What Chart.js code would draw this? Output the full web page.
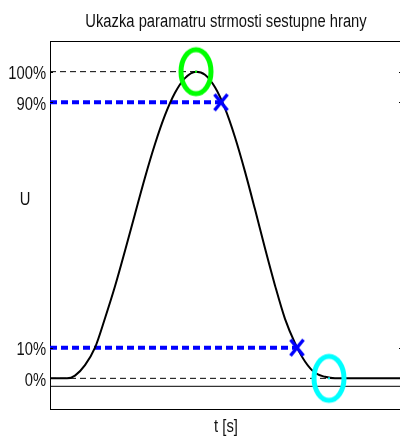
<!DOCTYPE html>
<html>
<head>
<meta charset="utf-8">
<script src="https://cdn.jsdelivr.net/npm/chart.js@4.4.1/dist/chart.umd.min.js"></script>
<style>
  html, body { margin: 0; padding: 0; background: #fff; overflow: hidden; }
  #obal { position: relative; width: 402px; height: 437px; }
</style>
</head>
<body>
<div id="obal"><canvas id="graf"></canvas></div>
<script>
// prubeh signalu (t bez jednotek, U v %)
const casT = [0, 10, 17, 25, 35, 45, 55, 65, 75, 85, 95, 105, 115, 125, 135, 146,
  155, 165, 175, 185, 195, 205, 215, 225, 235, 245, 255, 265, 275, 285, 352];
const napetiU = [0, 0, 0, 0.9, 4.3, 10.0, 19.6, 30.0, 41.6, 53.6, 65.5, 76.4, 85.8, 93.1, 97.9, 100,
  99.0, 94.9, 88.0, 78.6, 67.4, 55.1, 42.4, 30.3, 19.4, 11.5, 5.5, 1.8, 0.5, 0, 0];

// urovne na ose U
const urovneTicks = [0, 10, 90, 100];
const urovneLabels = ['0%', '10%', '90%', '100%'];

// vyznacene body: maximum (zelena) a navrat na nulu (azurova)
const kruhT = [146, 279];
const kruhU = [100, 0];
// pruseciky 90 % a 10 % na sestupne hrane
const krizT = [171, 247];
const krizU = [90, 10];

const zakladU = -2.6;   // plna vodorovna cara pod nulou
const rozsahT = [0, 352];
const rozsahU = [-10, 110];

const nadpis = 'Ukazka paramatru strmosti sestupne hrany';
const popisX = 't [s]';
const popisY = 'U';

const pismo = "18px 'Liberation Sans', Arial, sans-serif";
const barvaTextu = '#111';
const zuzeni = 0.82;   // pismo v predloze je horizontalne stlacene

function kruhovyBod(barva) {
  const c = document.createElement('canvas');
  c.width = 40;
  c.height = 54;
  const g = c.getContext('2d');
  g.strokeStyle = barva;
  g.lineWidth = 5;
  g.beginPath();
  g.ellipse(20, 27, 15, 22, 0, 0, Math.PI * 2);
  g.stroke();
  g.fillStyle = barva;
  g.fillRect(19, 26, 2, 2);
  return c;
}

function krizek(barva) {
  const c = document.createElement('canvas');
  c.width = 18;
  c.height = 20;
  const g = c.getContext('2d');
  g.strokeStyle = barva;
  g.lineWidth = 3.5;
  g.beginPath();
  g.moveTo(2.5, 2);
  g.lineTo(15.5, 18);
  g.moveTo(15.5, 2);
  g.lineTo(2.5, 18);
  g.stroke();
  return c;
}

function usecka(t0, t1, u) {
  return [{ x: t0, y: u }, { x: t1, y: u }];
}

function uzkyText(ctx, text, x, y, zarovnani) {
  ctx.save();
  ctx.translate(x, y);
  ctx.scale(zuzeni, 1);
  ctx.textAlign = zarovnani;
  ctx.textBaseline = 'alphabetic';
  ctx.fillText(text, 0, 0);
  ctx.restore();
}

const ramecek = {
  id: 'ramecek',
  afterDraw(chart) {
    const { ctx, chartArea: a, scales } = chart;
    ctx.save();
    ctx.strokeStyle = '#000';
    ctx.lineWidth = 1;
    ctx.beginPath();
    ctx.moveTo(a.left, a.top + 0.5);
    ctx.lineTo(a.right, a.top + 0.5);
    ctx.moveTo(a.right - 0.5, a.top);
    ctx.lineTo(a.right - 0.5, a.bottom);
    // kratke znacky dovnitr
    urovneTicks.forEach(v => {
      const y = Math.round(scales.y.getPixelForValue(v)) + 0.5;
      ctx.moveTo(a.left, y);
      ctx.lineTo(a.left + 3, y);
      ctx.moveTo(a.right, y);
      ctx.lineTo(a.right - 3, y);
    });
    ctx.stroke();

    ctx.fillStyle = barvaTextu;
    ctx.font = pismo;
    const stredX = (a.left + a.right) / 2;
    uzkyText(ctx, nadpis, stredX, 27, 'center');
    uzkyText(ctx, popisX, stredX, a.bottom + 23, 'center');
    uzkyText(ctx, popisY, 25, 205, 'center');
    urovneTicks.forEach((v, i) => {
      uzkyText(ctx, urovneLabels[i], a.left - 4, scales.y.getPixelForValue(v) + 7.5, 'right');
    });
    ctx.restore();
  }
};

const modryKriz = krizek('#0000ff');

new Chart(document.getElementById('graf'), {
  type: 'line',
  data: {
    datasets: [
      {
        data: kruhT.map((t, i) => ({ x: t, y: kruhU[i] })),
        showLine: false,
        pointStyle: [kruhovyBod('#00ff00'), kruhovyBod('#00ffff')],
        pointRadius: 20,
        order: 0
      },
      {
        data: krizT.map((t, i) => ({ x: t, y: krizU[i] })),
        showLine: false,
        pointStyle: modryKriz,
        pointRadius: 9,
        order: 1
      },
      {
        data: casT.map((t, i) => ({ x: t, y: napetiU[i] })),
        borderColor: '#000',
        borderWidth: 2,
        pointRadius: 0,
        cubicInterpolationMode: 'monotone',
        order: 2
      },
      {
        data: usecka(rozsahT[0], krizT[0], krizU[0]),
        borderColor: '#0000ff',
        borderWidth: 4,
        borderDash: [7, 4],
        pointRadius: 0,
        order: 3
      },
      {
        data: usecka(rozsahT[0], krizT[1], krizU[1]),
        borderColor: '#0000ff',
        borderWidth: 4,
        borderDash: [7, 4],
        pointRadius: 0,
        order: 3
      },
      {
        data: usecka(rozsahT[0], kruhT[0], kruhU[0]),
        borderColor: '#000',
        borderWidth: 1,
        borderDash: [6, 4],
        pointRadius: 0,
        order: 4
      },
      {
        data: usecka(rozsahT[0], kruhT[1], kruhU[1]),
        borderColor: '#000',
        borderWidth: 1,
        borderDash: [6, 4],
        pointRadius: 0,
        order: 4
      },
      {
        data: usecka(rozsahT[0], rozsahT[1], zakladU),
        borderColor: '#000',
        borderWidth: 1,
        pointRadius: 0,
        order: 5
      }
    ]
  },
  options: {
    responsive: true,
    maintainAspectRatio: false,
    animation: false,
    layout: { autoPadding: false, padding: { top: 41, bottom: 28, left: 0, right: 0 } },
    plugins: {
      legend: { display: false },
      tooltip: { enabled: false },
      title: { display: false }
    },
    scales: {
      x: {
        type: 'linear',
        min: rozsahT[0],
        max: rozsahT[1],
        afterFit: s => { s.height = 0; },
        grid: { display: false, drawTicks: false },
        ticks: { display: false },
        border: { display: true, color: '#000', width: 1 }
      },
      y: {
        min: rozsahU[0],
        max: rozsahU[1],
        afterBuildTicks: s => { s.ticks = urovneTicks.map(v => ({ value: v })); },
        afterFit: s => { s.width = 50; },
        grid: { display: false, drawTicks: false },
        border: { display: true, color: '#000', width: 1 },
        ticks: { display: false }
      }
    }
  },
  plugins: [ramecek]
});
</script>
</body>
</html>
